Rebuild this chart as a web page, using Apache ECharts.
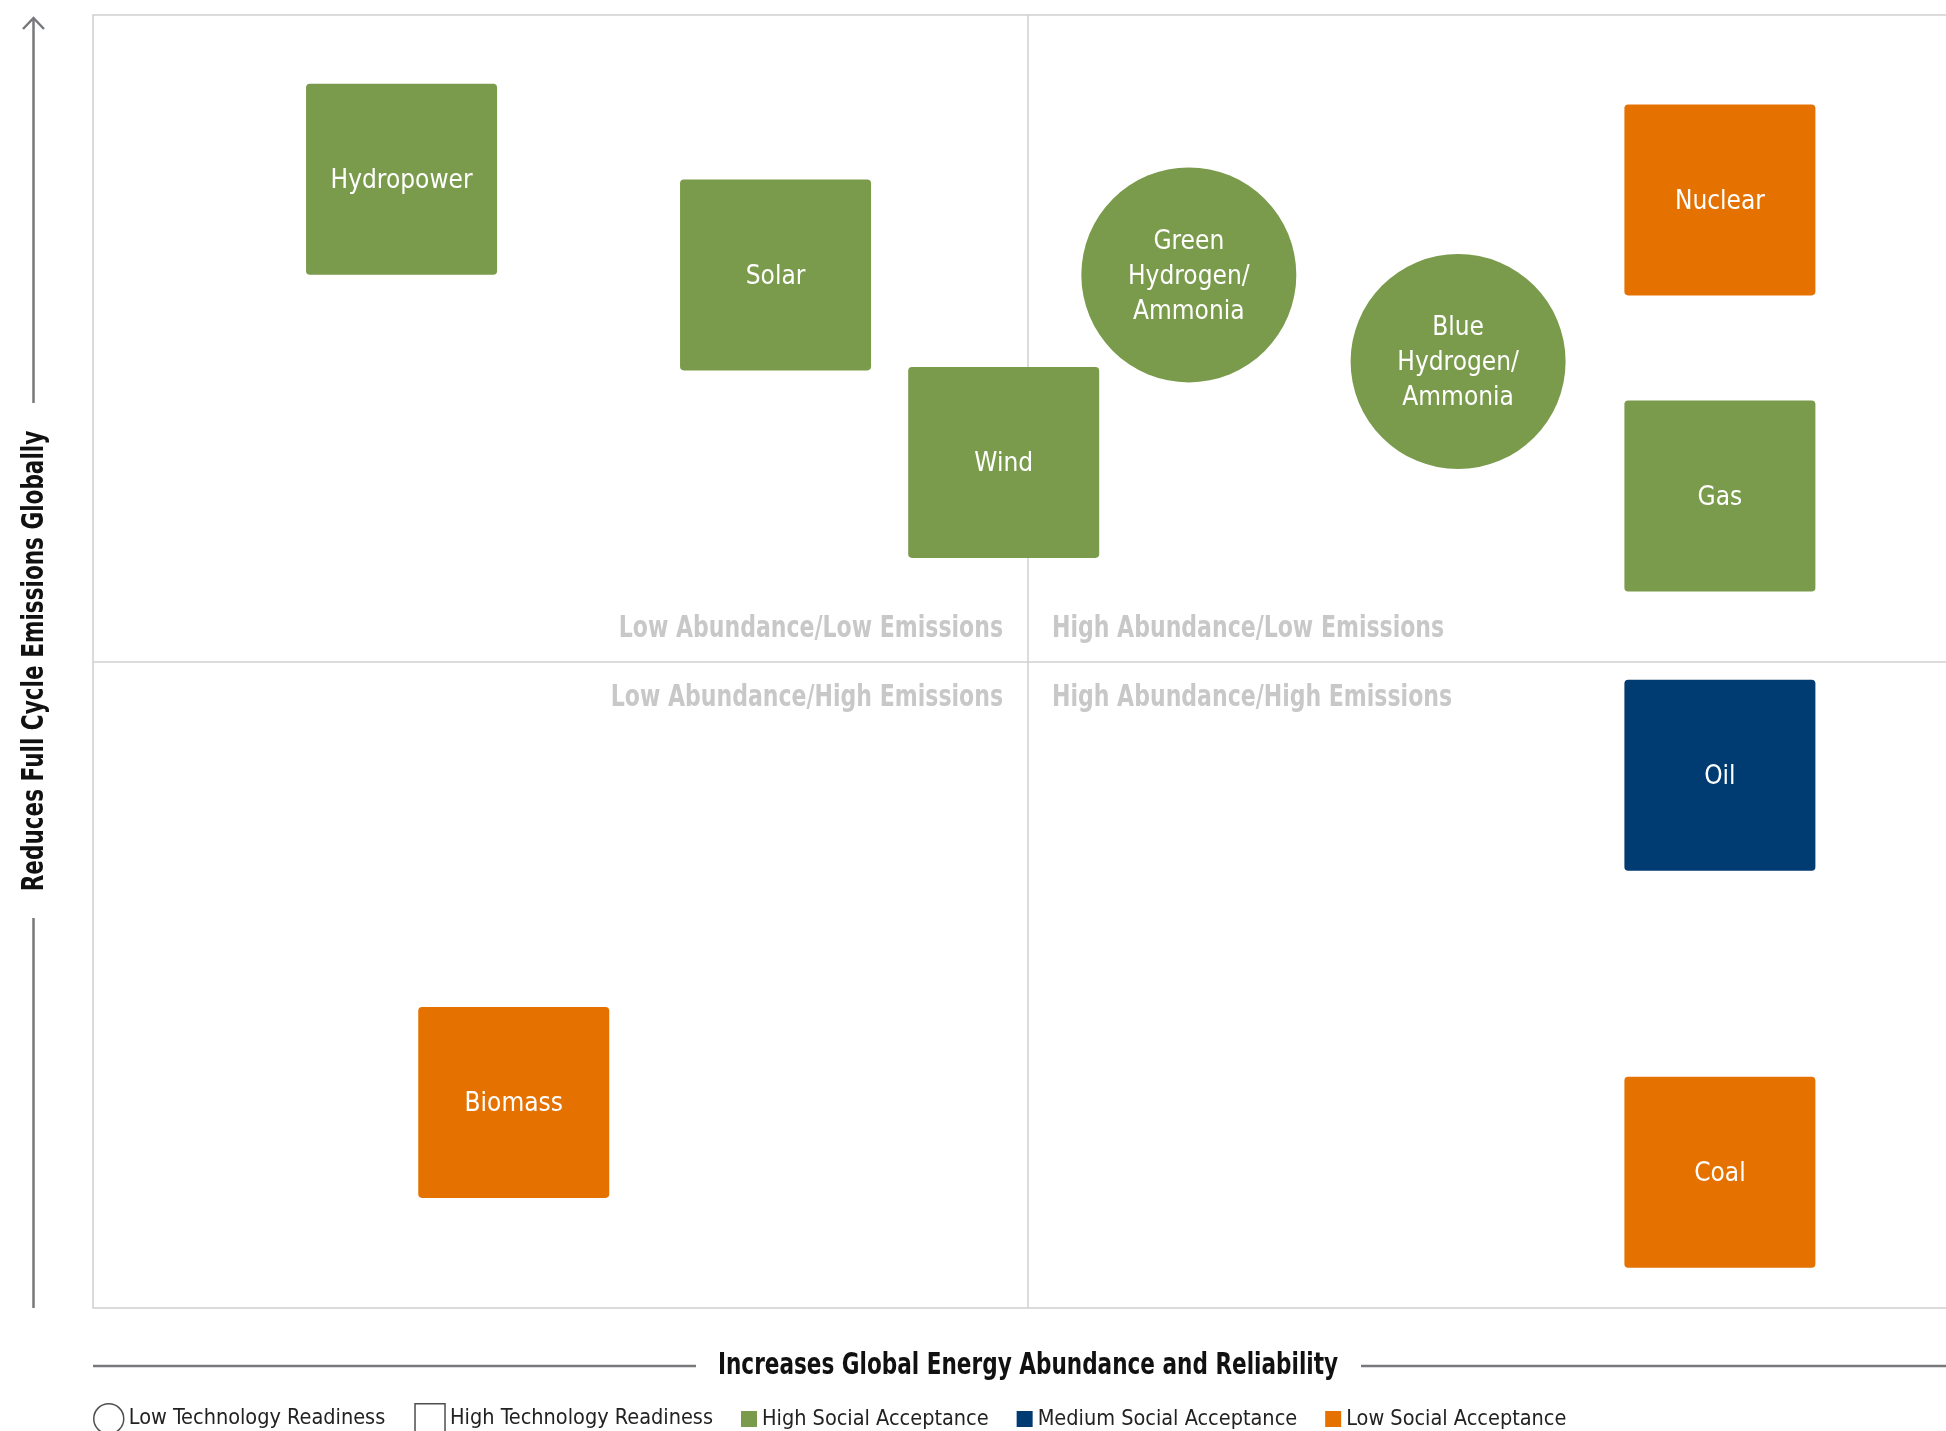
<!DOCTYPE html>
<html>
<head>
<meta charset="utf-8">
<script src="https://cdn.jsdelivr.net/npm/echarts@6/dist/echarts.min.js"></script>
<style>
  html, body { margin: 0; padding: 0; background: #fff; }
  #chart { width: 1946px; height: 1431px; }
</style>
</head>
<body>
<div id="chart"></div>
<script>
// energy sources, placed on abundance (x) vs emissions reduction (y), 0-100
const sources = ['Hydropower', 'Solar', 'Wind', 'Green\nHydrogen/\nAmmonia', 'Blue\nHydrogen/\nAmmonia', 'Nuclear', 'Gas', 'Oil', 'Biomass', 'Coal'];
const abundance = [16.5, 36.5, 48.7, 58.6, 73.0, 87.0, 87.0, 87.0, 22.5, 87.0];
const emissions = [87.3, 79.9, 65.4, 79.9, 73.2, 85.7, 62.8, 41.2, 15.9, 10.5];
const readiness = ['High', 'High', 'High', 'Low', 'Low', 'High', 'High', 'High', 'High', 'High'];
const acceptance = ['High', 'High', 'High', 'High', 'High', 'Low', 'High', 'Medium', 'Low', 'Low'];

const readinessLabels = ['Low Technology Readiness', 'High Technology Readiness'];
const acceptanceLabels = ['High Social Acceptance', 'Medium Social Acceptance', 'Low Social Acceptance'];
const quadrantLabels = ['Low Abundance/Low Emissions', 'High Abundance/Low Emissions', 'Low Abundance/High Emissions', 'High Abundance/High Emissions'];

const colors = { High: '#7a9b4b', Medium: '#003b71', Low: '#e57200' };
const FONT = '"DejaVu Sans Condensed", "DejaVu Sans", sans-serif';
const squarePath = 'path://M2,0H98Q100,0 100,2V98Q100,100 98,100H2Q0,100 0,98V2Q0,0 2,0Z';

const chart = echarts.init(document.getElementById('chart'));

function pointsFor(level) {
  const out = [];
  sources.forEach((name, i) => {
    if (readiness[i] !== level) return;
    out.push({
      name: name,
      value: [abundance[i], emissions[i]],
      itemStyle: { color: colors[acceptance[i]], opacity: 1 }
    });
  });
  return out;
}

const labelStyle = {
  show: true,
  position: 'inside',
  formatter: '{b}',
  offset: [0, 2],
  color: '#fff',
  fontFamily: FONT,
  fontSize: 26,
  lineHeight: 35
};

const gray = '#77787b';

// condensed look: squeeze the text horizontally
function caption(text, x, y, align) {
  return {
    type: 'text', x: x, y: y, scaleX: 0.79,
    style: {
      text: text, fontFamily: FONT, fontWeight: 'bold', fontSize: 31,
      fill: '#c8c8c8', align: align, verticalAlign: 'middle'
    }
  };
}

const option = {
  animation: false,
  grid: {
    left: 93, top: 15, width: 1870, height: 1293,
    outerBoundsMode: 'none',
    show: true, borderColor: '#cfcfcf', borderWidth: 1.5
  },
  xAxis: { type: 'value', min: 0, max: 100, show: false },
  yAxis: { type: 'value', min: 0, max: 100, show: false },
  legend: [
    {
      left: 93, top: 1403, padding: 0, itemWidth: 30, itemHeight: 30, itemGap: 29,
      selectedMode: false,
      textStyle: { fontFamily: FONT, fontSize: 21.5, color: '#222' },
      data: [
        { name: readinessLabels[0], icon: 'circle', itemStyle: { color: '#fff', borderColor: '#222', borderWidth: 1.5 } },
        { name: readinessLabels[1], icon: 'rect', itemStyle: { color: '#fff', borderColor: '#222', borderWidth: 1.5 } }
      ]
    },
    {
      left: 741, top: 1408, padding: 0, itemWidth: 16, itemHeight: 16, itemGap: 28,
      selectedMode: false, icon: 'rect',
      textStyle: { fontFamily: FONT, fontSize: 21.5, color: '#222' },
      data: acceptanceLabels
    }
  ],
  series: [
    {
      name: readinessLabels[0],
      type: 'scatter',
      z: 2,
      symbol: 'circle',
      symbolSize: 215,
      data: pointsFor('Low'),
      label: labelStyle,
      emphasis: { disabled: true },
      markLine: {
        silent: true,
        z: 1,
        symbol: 'none',
        label: { show: false },
        lineStyle: { color: '#d0d0d0', width: 1.5, type: 'solid' },
        data: [{ xAxis: 50 }, { yAxis: 50 }]
      }
    },
    {
      name: readinessLabels[1],
      type: 'scatter',
      z: 3,
      symbol: squarePath,
      symbolSize: 191,
      data: pointsFor('High'),
      label: labelStyle,
      emphasis: { disabled: true }
    },
    { name: acceptanceLabels[0], type: 'scatter', data: [], itemStyle: { color: colors.High, opacity: 1 } },
    { name: acceptanceLabels[1], type: 'scatter', data: [], itemStyle: { color: colors.Medium, opacity: 1 } },
    { name: acceptanceLabels[2], type: 'scatter', data: [], itemStyle: { color: colors.Low, opacity: 1 } }
  ],
  graphic: [
    // quadrant captions
    caption(quadrantLabels[0], 1003, 629, 'right'),
    caption(quadrantLabels[1], 1052, 629, 'left'),
    caption(quadrantLabels[2], 1003, 698, 'right'),
    caption(quadrantLabels[3], 1052, 698, 'left'),
    // y axis arrow + title
    { type: 'line', shape: { x1: 33.5, y1: 18, x2: 33.5, y2: 403 }, style: { stroke: gray, lineWidth: 2.5 } },
    { type: 'polyline', shape: { points: [[23, 29], [33.5, 18], [44, 29]] }, style: { stroke: gray, lineWidth: 2.5, fill: null } },
    { type: 'line', shape: { x1: 33.5, y1: 918, x2: 33.5, y2: 1308 }, style: { stroke: gray, lineWidth: 2.5 } },
    {
      type: 'text', x: 35, y: 661, rotation: Math.PI / 2, scaleX: 0.8,
      style: {
        text: 'Reduces Full Cycle Emissions Globally',
        fontFamily: FONT, fontWeight: 'bold', fontSize: 30, fill: '#111',
        align: 'center', verticalAlign: 'middle'
      }
    },
    // x axis line + title
    { type: 'line', shape: { x1: 93, y1: 1366, x2: 696, y2: 1366 }, style: { stroke: gray, lineWidth: 2.5 } },
    { type: 'line', shape: { x1: 1361, y1: 1366, x2: 1946, y2: 1366 }, style: { stroke: gray, lineWidth: 2.5 } },
    {
      type: 'text', x: 1028, y: 1366, scaleX: 0.8,
      style: {
        text: 'Increases Global Energy Abundance and Reliability',
        fontFamily: FONT, fontWeight: 'bold', fontSize: 30, fill: '#111',
        align: 'center', verticalAlign: 'middle'
      }
    }
  ]
};

chart.setOption(option);
window.addEventListener('resize', () => chart.resize());
</script>
</body>
</html>
